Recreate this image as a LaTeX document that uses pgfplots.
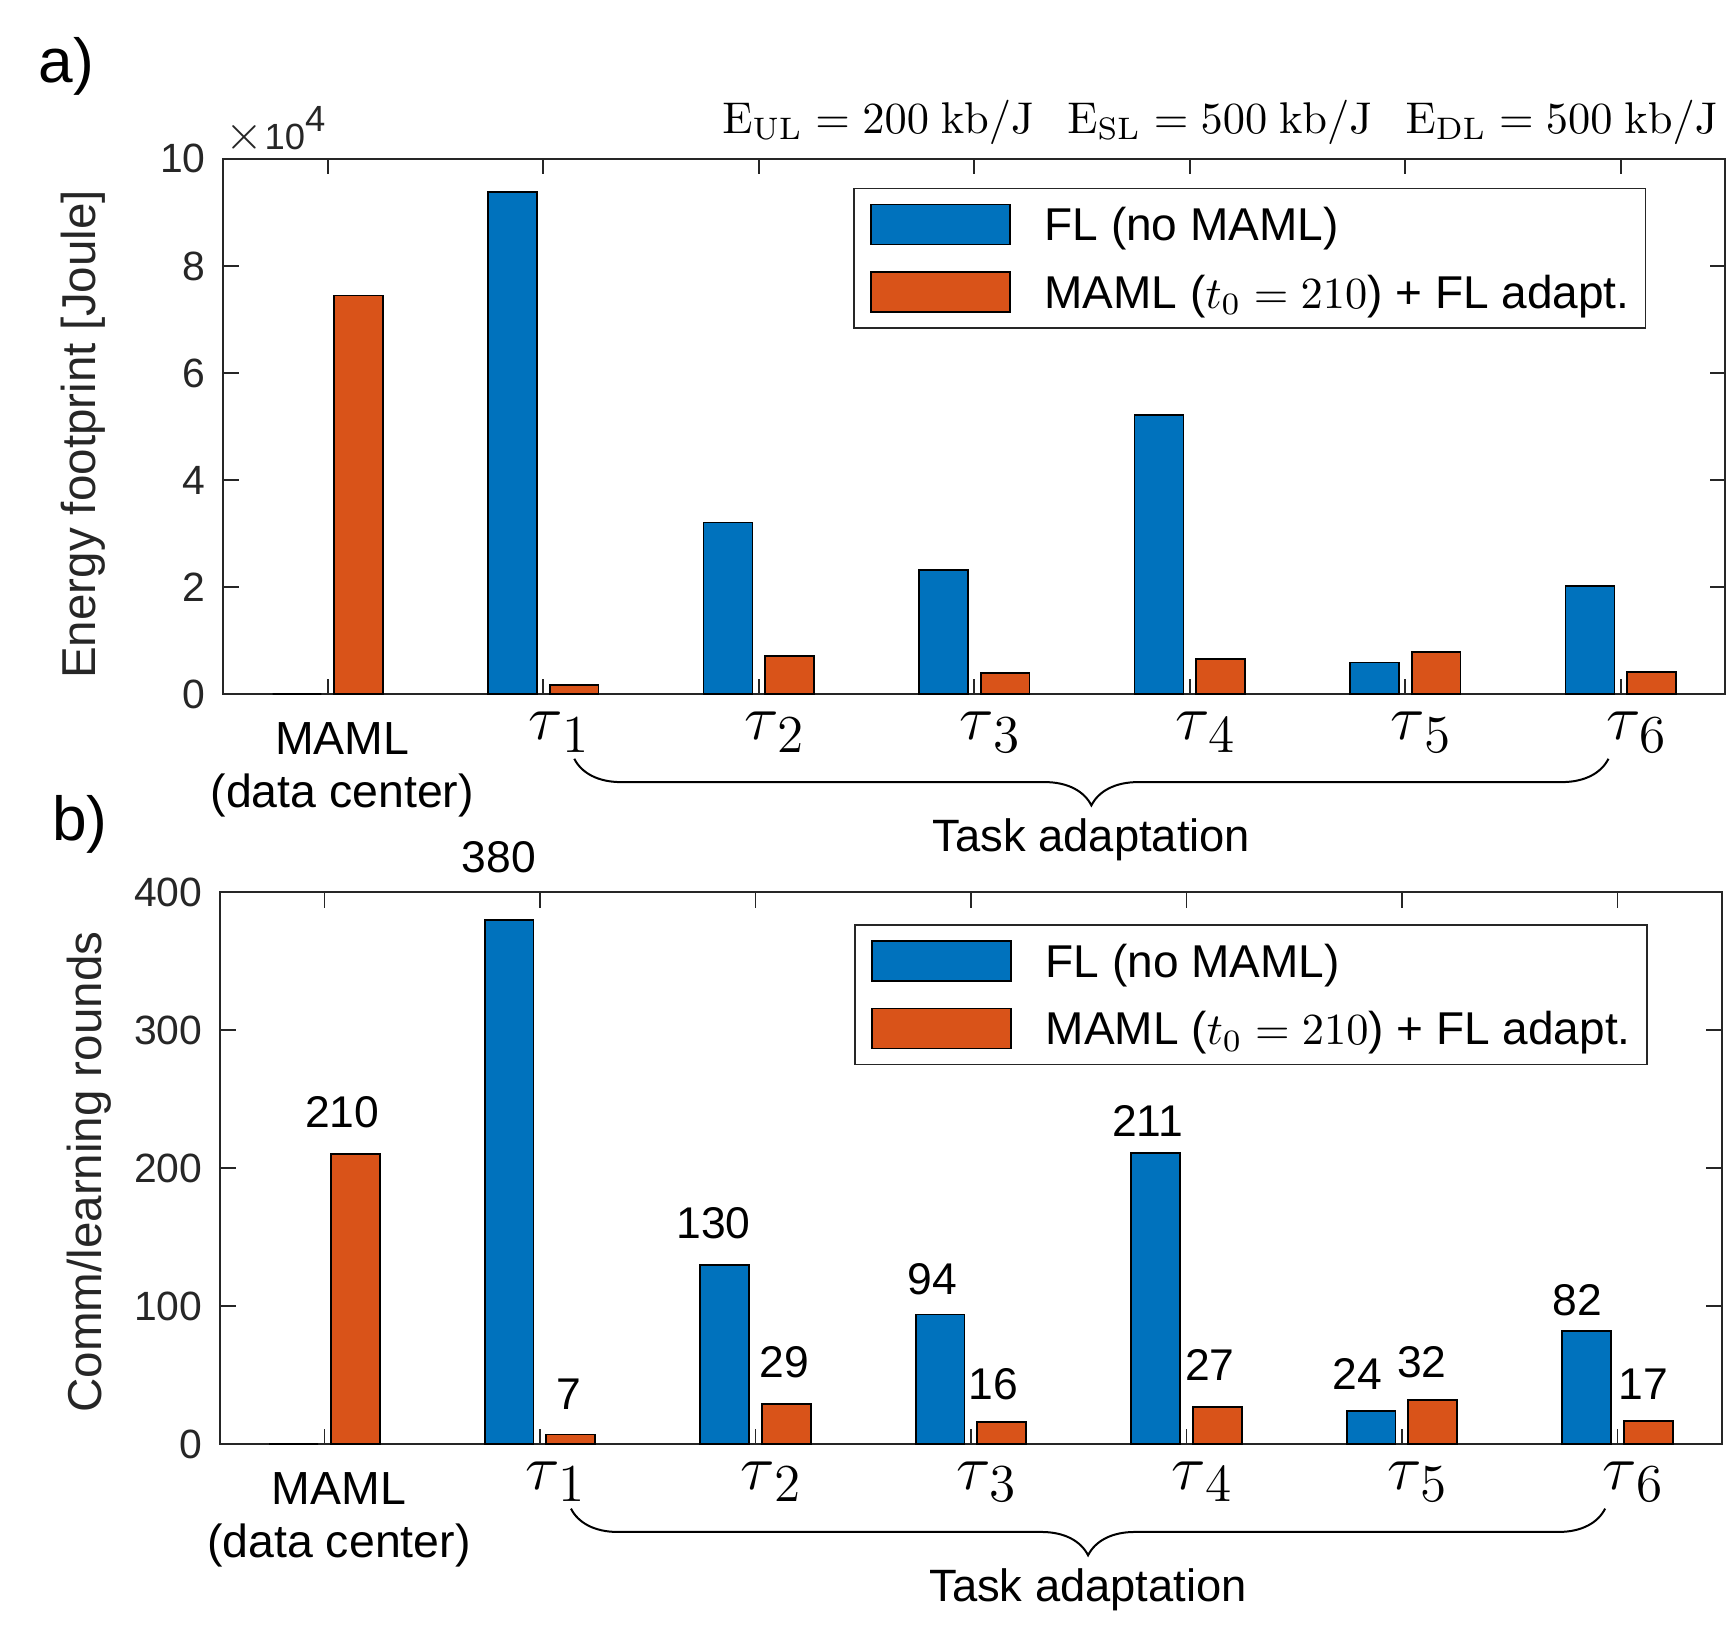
\documentclass[border=0pt]{standalone}
\usepackage[no-math]{fontspec}
\setmainfont{Liberation Sans}
\usepackage{pgfplots}
\usepackage{pgfplotstable}
\pgfplotsset{compat=1.18}
\usetikzlibrary{decorations.pathreplacing}

\definecolor{mblue}{RGB}{0,114,189}
\definecolor{morange}{RGB}{217,83,25}
\definecolor{axc}{RGB}{38,38,38}

% energy in units of 10^4 J
\pgfplotstableread{
x fl maml
0 0 7.45
1 9.386 0.173
2 3.211 0.716
3 2.322 0.395
4 5.212 0.667
5 0.593 0.790
6 2.025 0.420
}\energy

\pgfplotstableread{
x fl maml
0 0 210
1 380 7
2 130 29
3 94 16
4 211 27
5 24 32
6 82 17
}\rounds

\pgfplotstableread{
x y t
0.083 240.6 210
0.81 425 380
1.134 36.2 7
1.805 160.2 130
2.134 59.6 29
2.82 119.9 94
3.104 43.5 16
3.82 234.2 211
4.109 57.1 27
4.794 50.7 24
5.093 59.6 32
5.815 104.6 82
6.119 43.5 17
}\labels

\newcommand{\tl}[1]{{\fontsize{15}{17}\selectfont$\tau$}\rlap{\hspace{-0.2pt}\raisebox{-2.8pt}{\fontsize{12}{13}\selectfont$#1$}}}

\pgfplotsset{
  blueleg/.style={legend image code/.code={\draw[fill=mblue, draw=black, line width=0.4pt] (0pt,-4.5pt) rectangle (31.25pt,4.5pt);}},
  orangeleg/.style={legend image code/.code={\draw[fill=morange, draw=black, line width=0.4pt] (0pt,-4.5pt) rectangle (31.25pt,4.5pt);}},
  bluebar/.style={ybar, bar width=0.227, bar shift=-0.143, fill=mblue, draw=black, line width=0.4pt, blueleg},
  orangebar/.style={ybar, bar width=0.227, bar shift=0.143, fill=morange, draw=black, line width=0.4pt, orangeleg},
  mystyle/.style={
    scale only axis, width=338pt,
    xmin=-0.485, xmax=6.485, ymin=0,
    axis line style={axc, line width=0.4pt},
    every tick/.style={axc, line width=0.4pt},
    major tick length=3.5pt,
    tick align=inside, tick pos=both, ticklabel pos=left,
    xtick={0,...,6},
    xticklabels={{\hspace*{5.3pt}\rule{0pt}{9.6pt}MAML\\\hspace*{5.3pt}(data center)},
      {\tl{1}}, {\tl{2}}, {\tl{3}}, {\tl{4}}, {\tl{5}}, {\tl{6}}},
    xticklabel style={anchor=north, inner sep=0pt, yshift=-3.8pt, xshift=0.6pt, align=center, font=\fontsize{10.45}{11.8}\selectfont, text=black},
    yticklabel style={anchor=east, inner sep=0pt, xshift=-3.75pt, font=\fontsize{9.2}{11}\selectfont, text=axc},
    /pgf/number format/assume math mode=true,
    ylabel style={font=\fontsize{10.7}{12}\selectfont, anchor=center, text=axc},
    clip=false,
    legend style={anchor=north east, draw=axc, line width=0.4pt, fill=white,
      inner xsep=3.6pt, inner ysep=3.4pt,
      /tikz/row sep=5.8pt, /tikz/column sep=7.6pt,
      font=\fontsize{10.35}{12}\selectfont,
      nodes={inner sep=0pt, text height=8.15pt, text depth=0.85pt},
      cells={anchor=west}},
  }
}

\begin{document}
\begin{tikzpicture}
\path (-50.25pt,-211.25pt) rectangle (339.75pt,156.25pt);

\begin{axis}[mystyle, at={(0pt,0pt)}, anchor=south west, height=120.5pt,
  ymax=10, ytick={0,2,...,10},
  ylabel={Energy footprint [Joule]},
  ylabel style={at={([xshift=-31.5pt]rel axis cs:0,0.4855)}},
  legend style={at={(rel axis cs:0.9475,0.9465)}}]
\addplot[bluebar] table[x=x,y=fl]{\energy};
\addplot[orangebar] table[x=x,y=maml]{\energy};
\legend{FL (no MAML), MAML ($t_0=210$) + FL adapt.}
\draw[black, line width=0.45pt, decorate, decoration={brace, mirror, amplitude=10.5pt}]
  ([yshift=-14.5pt]axis cs:1.144,0) -- ([yshift=-14.5pt]axis cs:5.943,0);
\node[font=\fontsize{10.2}{12}\selectfont] at ([yshift=-32.75pt]axis cs:3.5435,0) {Task adaptation};
\node[anchor=base west, inner sep=0pt, font=\fontsize{8.2}{10}\selectfont, text=axc]
  at ([xshift=0.2pt, yshift=2pt]rel axis cs:0,1) {{\fontsize{10.5}{11}\selectfont$\times$}\hspace{0.4pt}10\raisebox{4.2pt}{4}};
\node[anchor=base east, inner sep=0pt, font=\fontsize{9.55}{12}\selectfont]
  at ([xshift=-1.5pt, yshift=5.75pt]rel axis cs:1,1)
  {$\mathrm{E}_{\mathrm{UL}}=200\ \mathrm{kb/J}$\hspace{7.5pt}$\mathrm{E}_{\mathrm{SL}}=500\ \mathrm{kb/J}$\hspace{7.5pt}$\mathrm{E}_{\mathrm{DL}}=500\ \mathrm{kb/J}$};
\end{axis}

\node[font=\fontsize{14}{16}\selectfont] at (-35.25pt,141.25pt) {a)};
\node[font=\fontsize{14}{16}\selectfont] at (-32.25pt,-29.25pt) {b)};

\begin{axis}[mystyle, at={(-0.75pt,-44.5pt)}, anchor=north west, height=124.25pt,
  ymax=400, ytick={0,100,...,400},
  ylabel={Comm/learning rounds},
  ylabel style={at={([xshift=-29.5pt]rel axis cs:0,0.493)}},
  legend style={at={(rel axis cs:0.9505,0.942)}}]
\addplot[bluebar] table[x=x,y=fl]{\rounds};
\addplot[orangebar] table[x=x,y=maml]{\rounds};
\legend{FL (no MAML), MAML ($t_0=210$) + FL adapt.}
\addplot[draw=none, mark=none, forget plot, nodes near coords, nodes near coords align={center},
  point meta=explicit symbolic,
  every node near coord/.append style={anchor=center, inner sep=0pt, font=\fontsize{10}{12}\selectfont, text=black}]
  table[x=x, y=y, meta=t]{\labels};
\draw[black, line width=0.45pt, decorate, decoration={brace, mirror, amplitude=10.5pt}]
  ([yshift=-14.5pt]axis cs:1.144,0) -- ([yshift=-14.5pt]axis cs:5.943,0);
\node[font=\fontsize{10.2}{12}\selectfont] at ([yshift=-32.75pt]axis cs:3.5435,0) {Task adaptation};
\end{axis}
\end{tikzpicture}
\end{document}
